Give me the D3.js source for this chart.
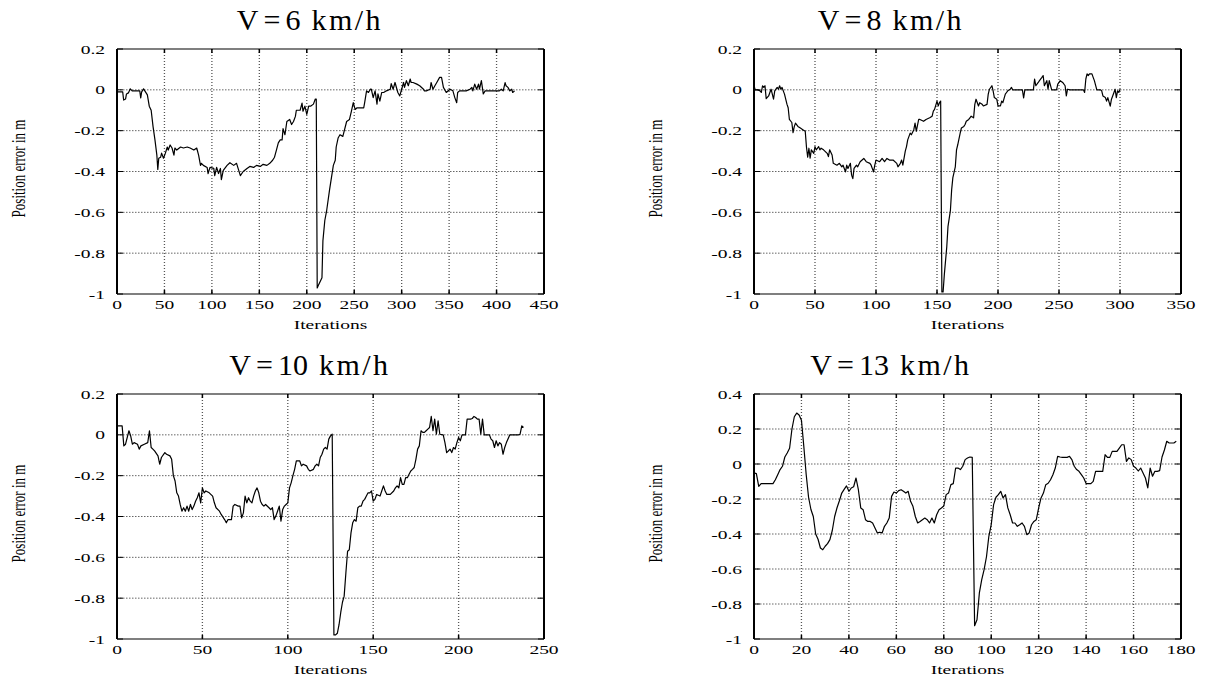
<!DOCTYPE html>
<html lang="en">
<head>
<meta charset="utf-8">
<script src="https://d3js.org/d3.v7.min.js"></script>
<style>
  body { margin: 0; background: #fff; }
  text { font-family: "Liberation Serif", "Times New Roman", serif; fill: #000; }
</style>
</head>
<body>
<script>
// ---- data ----
var speeds = [6, 8, 10, 13];

var iter6 = [0,3,6,7,9,10,12,14,16,20,24,25,26,28,30,32,34,36,38,40,42,43,44,46,47,49,51,53,54,56,58,60,61,63,67,70,74,77,81,84,86,88,89,91,95,96,98,102,103,105,107,109,110,112,116,119,123,126,130,133,137,140,144,147,151,154,158,161,164,166,168,170,172,174,175,177,179,182,184,186,188,189,193,195,196,198,200,202,204,207,209,210,211,212,216,217,219,221,224,228,230,231,233,235,238,242,245,247,249,251,253,256,260,261,263,265,267,268,270,272,274,275,277,279,281,284,288,289,291,293,295,296,298,300,302,303,305,307,309,310,312,316,319,323,324,326,330,331,333,335,337,340,342,344,347,351,354,356,358,359,361,368,372,374,375,377,379,381,382,384,386,388,393,400,403,405,407,409,410,412,414,416,417,419];
var err6 = [-0.01,-0.01,-0.01,-0.05,-0.045,-0.02,-0.015,0.005,-0.005,-0.005,-0.005,-0.04,-0.01,0.005,-0.01,-0.025,-0.08,-0.1,-0.18,-0.245,-0.32,-0.39,-0.335,-0.33,-0.31,-0.335,-0.31,-0.28,-0.295,-0.27,-0.285,-0.32,-0.285,-0.295,-0.28,-0.285,-0.28,-0.285,-0.295,-0.285,-0.32,-0.37,-0.36,-0.37,-0.38,-0.41,-0.38,-0.385,-0.42,-0.38,-0.41,-0.385,-0.44,-0.395,-0.37,-0.357,-0.37,-0.36,-0.42,-0.4,-0.385,-0.375,-0.38,-0.37,-0.375,-0.365,-0.37,-0.36,-0.345,-0.33,-0.295,-0.26,-0.245,-0.245,-0.19,-0.22,-0.155,-0.145,-0.17,-0.155,-0.13,-0.1,-0.1,-0.065,-0.105,-0.08,-0.12,-0.08,-0.08,-0.07,-0.045,-0.045,-0.97,-0.96,-0.92,-0.74,-0.64,-0.59,-0.49,-0.37,-0.345,-0.28,-0.236,-0.22,-0.228,-0.155,-0.145,-0.105,-0.063,-0.096,-0.088,-0.088,-0.088,-0.063,-0.005,-0.013,0.003,0.003,-0.038,-0.005,-0.07,-0.02,-0.055,-0.013,-0.013,-0.005,0.003,0.03,0.003,0.036,0.003,-0.013,-0.03,0.003,0.036,0.012,0.045,0.02,0.053,0.036,0.036,0.028,0.02,0.003,-0.005,-0.005,0.003,0.036,0.003,0.02,0.036,0.061,0.061,0.012,-0.013,0.003,-0.005,-0.038,-0.063,-0.013,-0.005,-0.005,0.003,0.012,-0.005,0.028,0.003,0.028,0.003,0.045,-0.02,-0.005,-0.005,-0.005,-0.005,0.003,-0.005,0.035,0.02,0.012,-0.005,0.003,-0.013,-0.005];

var iter8 = [0,1,3,5,6,7,8,9,10,12,13,14,16,17,19,20,21,22,23,24,25,27,28,29,31,32,33,34,36,38,40,42,43,44,45,46,47,49,50,51,53,54,55,57,60,61,62,64,65,68,70,72,73,75,76,77,79,80,81,82,84,85,87,90,92,95,96,98,99,100,103,105,107,109,111,114,117,118,120,121,122,124,125,126,128,129,131,132,133,135,136,139,141,144,146,147,148,150,151,152,153,154,155,156,158,159,161,162,163,165,166,167,169,170,172,173,174,176,177,178,180,181,182,184,185,187,188,191,192,193,195,196,197,199,200,202,203,204,206,207,208,210,211,212,220,221,222,229,230,231,233,234,236,237,238,240,241,242,244,248,249,251,253,255,256,257,259,270,271,272,273,274,275,277,278,279,281,284,285,286,288,289,290,292,293,294,296,297,298,299,300];
var err8 = [0.02,0,0,-0.005,-0.013,0.02,0.012,0.02,-0.043,-0.03,-0.013,0.003,-0.046,-0.005,0.012,0.003,0.02,0.003,0.012,-0.005,-0.021,-0.07,-0.088,-0.145,-0.16,-0.21,-0.18,-0.163,-0.179,-0.187,-0.195,-0.203,-0.28,-0.33,-0.286,-0.335,-0.294,-0.311,-0.278,-0.294,-0.278,-0.294,-0.286,-0.294,-0.311,-0.327,-0.294,-0.319,-0.36,-0.369,-0.36,-0.377,-0.369,-0.402,-0.369,-0.385,-0.36,-0.418,-0.435,-0.385,-0.369,-0.377,-0.352,-0.336,-0.352,-0.36,-0.369,-0.402,-0.369,-0.344,-0.352,-0.336,-0.352,-0.336,-0.344,-0.344,-0.36,-0.377,-0.36,-0.344,-0.369,-0.3,-0.278,-0.245,-0.212,-0.22,-0.195,-0.163,-0.203,-0.145,-0.145,-0.154,-0.145,-0.137,-0.129,-0.104,-0.096,-0.055,-0.079,-0.063,-0.055,-0.99,-0.99,-0.905,-0.77,-0.67,-0.59,-0.49,-0.43,-0.377,-0.294,-0.269,-0.212,-0.187,-0.179,-0.17,-0.154,-0.145,-0.137,-0.129,-0.137,-0.071,-0.046,-0.079,-0.063,-0.071,-0.079,-0.071,-0.021,0.003,0.02,-0.005,-0.038,-0.046,-0.079,-0.079,-0.055,-0.063,-0.021,-0.013,-0.005,0.003,0.012,0,0,-0.04,0,0,0.053,0.02,0.036,0.045,0.061,0.07,0.02,0.045,0.003,0.045,0,0,0.028,0.045,0.036,0.02,-0.03,0.003,0,0,-0.013,0.053,0.078,0.07,0.078,0.078,0.061,0.045,0,0,-0.005,-0.03,-0.038,-0.055,-0.038,-0.08,-0.046,-0.03,0.003,-0.038,-0.005,-0.013,0.003];

var iter10 = [0,3,4,5,7,8,9,10,12,13,14,16,18,19,20,21,22,24,25,26,28,29,31,32,33,34,35,36,37,38,39,40,41,42,43,44,45,46,47,48,49,50,51,52,54,56,57,58,60,61,63,64,65,67,68,69,71,72,73,74,75,76,77,78,79,80,81,82,83,84,85,86,87,89,90,91,92,93,94,95,96,97,98,99,100,101,102,103,104,105,107,108,109,111,112,113,115,116,117,118,119,120,121,122,123,124,125,126,127,128,129,130,131,132,133,134,135,136,137,138,139,140,141,142,143,144,145,146,147,148,149,150,151,152,154,155,156,157,158,160,162,163,164,165,166,167,168,169,170,171,172,173,174,175,176,177,178,179,180,181,182,183,184,185,186,187,188,189,191,192,193,194,195,196,197,198,199,200,201,202,204,205,206,207,208,209,210,211,212,213,214,215,218,219,220,221,222,223,224,225,226,227,228,230,235,236,237,238];
var err10 = [0.044,0.044,-0.054,-0.046,0.02,-0.005,-0.046,-0.038,-0.046,-0.07,-0.054,-0.046,-0.038,0.02,-0.062,-0.07,-0.079,-0.103,-0.144,-0.111,-0.087,-0.095,-0.103,-0.12,-0.2,-0.226,-0.284,-0.3,-0.341,-0.374,-0.357,-0.374,-0.349,-0.374,-0.341,-0.366,-0.349,-0.325,-0.308,-0.284,-0.333,-0.26,-0.284,-0.275,-0.284,-0.3,-0.333,-0.357,-0.374,-0.39,-0.415,-0.431,-0.415,-0.415,-0.349,-0.341,-0.349,-0.349,-0.407,-0.382,-0.3,-0.333,-0.308,-0.325,-0.333,-0.3,-0.275,-0.26,-0.284,-0.325,-0.341,-0.349,-0.341,-0.357,-0.366,-0.357,-0.415,-0.398,-0.374,-0.349,-0.423,-0.366,-0.349,-0.341,-0.333,-0.26,-0.234,-0.2,-0.169,-0.128,-0.128,-0.152,-0.144,-0.152,-0.169,-0.177,-0.169,-0.152,-0.144,-0.152,-0.111,-0.095,-0.07,-0.062,-0.07,-0.021,-0.005,0.003,-0.98,-0.98,-0.972,-0.93,-0.87,-0.82,-0.79,-0.677,-0.57,-0.563,-0.48,-0.431,-0.415,-0.423,-0.357,-0.349,-0.349,-0.325,-0.316,-0.3,-0.284,-0.284,-0.275,-0.325,-0.316,-0.292,-0.3,-0.275,-0.25,-0.275,-0.292,-0.292,-0.275,-0.26,-0.25,-0.26,-0.21,-0.243,-0.243,-0.21,-0.21,-0.193,-0.177,-0.169,-0.16,-0.12,-0.07,-0.054,0.02,0.012,0.012,0.02,0.028,0.036,0.09,0.02,0.077,0.003,0.069,0.003,0,-0.038,-0.087,-0.079,-0.07,-0.087,-0.062,-0.07,-0.038,-0.013,-0.029,0,0,0.077,0.077,0.077,0.08,0.09,0.085,0.077,0.077,0.003,0.077,0,0,-0.021,-0.029,-0.062,-0.029,-0.054,-0.038,-0.046,-0.095,-0.062,-0.038,0,0,0.003,0.044,0.036];

var iter13 = [0,1,2,3,4,6,8,9,10,11,12,13,14,15,16,17,18,19,20,21,22,23,24,25,26,27,28,29,30,31,32,33,34,35,36,37,38,39,40,41,42,43,44,45,46,47,48,49,50,51,52,53,54,55,56,57,58,59,60,61,62,63,64,65,66,67,68,69,70,71,72,73,74,75,76,77,78,79,80,81,82,83,84,85,86,87,88,89,90,91,92,93,94,95,96,97,98,99,100,101,102,103,104,105,106,107,108,109,110,111,112,113,114,115,116,117,118,119,120,121,122,123,124,125,126,127,128,129,130,132,133,134,135,136,137,138,139,140,141,142,143,144,145,147,148,149,150,151,152,153,154,155,156,157,158,159,160,161,162,163,164,165,166,167,168,169,170,171,172,173,174,175,176,177,178];
var err13 = [-0.051,-0.055,-0.128,-0.112,-0.112,-0.112,-0.112,-0.09,-0.061,-0.032,-0.013,0.04,0.063,0.09,0.2,0.27,0.291,0.28,0.25,0.1,-0.06,-0.19,-0.26,-0.3,-0.4,-0.43,-0.48,-0.49,-0.47,-0.455,-0.432,-0.38,-0.3,-0.25,-0.21,-0.166,-0.145,-0.125,-0.156,-0.137,-0.13,-0.08,-0.147,-0.251,-0.261,-0.318,-0.328,-0.328,-0.337,-0.366,-0.394,-0.39,-0.394,-0.356,-0.337,-0.309,-0.185,-0.16,-0.166,-0.152,-0.147,-0.156,-0.166,-0.156,-0.213,-0.242,-0.3,-0.337,-0.328,-0.318,-0.309,-0.318,-0.337,-0.309,-0.337,-0.29,-0.261,-0.251,-0.24,-0.175,-0.166,-0.118,-0.112,-0.023,-0.023,-0.032,-0.013,0.025,0.034,0.04,0.038,-0.924,-0.89,-0.737,-0.661,-0.604,-0.53,-0.413,-0.347,-0.232,-0.19,-0.175,-0.156,-0.194,-0.175,-0.251,-0.29,-0.337,-0.337,-0.356,-0.347,-0.337,-0.356,-0.404,-0.394,-0.347,-0.328,-0.318,-0.251,-0.194,-0.166,-0.118,-0.11,-0.09,-0.061,-0.023,0.044,0.04,0.038,0.038,0.044,0.025,-0.013,-0.032,-0.042,-0.061,-0.08,-0.112,-0.112,-0.112,-0.099,-0.042,-0.042,-0.042,0.053,0.038,0.038,0.072,0.072,0.072,0.091,0.11,0.11,0.015,0.035,0.025,-0.013,-0.023,-0.04,-0.023,-0.051,-0.08,-0.137,-0.023,-0.07,-0.042,-0.042,-0.038,0.04,0.08,0.13,0.12,0.12,0.12,0.13];

var xTicks6 = [0,50,100,150,200,250,300,350,400,450];
var xTicks8 = [0,50,100,150,200,250,300,350];
var xTicks10 = [0,50,100,150,200,250];
var xTicks13 = [0,20,40,60,80,100,120,140,160,180];
var yTicksA = [-1,-0.8,-0.6,-0.4,-0.2,0,0.2];
var yTicksB = [-1,-0.8,-0.6,-0.4,-0.2,0,0.2,0.4];

var series = [
  {iter: iter6,  err: err6,  xt: xTicks6,  yt: yTicksA},
  {iter: iter8,  err: err8,  xt: xTicks8,  yt: yTicksA},
  {iter: iter10, err: err10, xt: xTicks10, yt: yTicksA},
  {iter: iter13, err: err13, xt: xTicks13, yt: yTicksB}
];

// ---- layout ----
var W = 1207, H = 679;
var pw = 427, ph = 245;
var boxes = [
  {x: 117, y: 49,  tx: 310},
  {x: 754, y: 49,  tx: 891},
  {x: 117, y: 394, tx: 310},
  {x: 754, y: 394, tx: 891}
];
var SX = 1.5;   // the original figure is stretched sideways

var svg = d3.select("body").append("svg")
  .attr("width", W).attr("height", H);

function wideText(g, x, y, str, anchor) {
  return g.append("g")
    .attr("transform", "translate(" + x + "," + y + ") scale(" + SX + ",1)")
    .append("text")
    .attr("text-anchor", anchor)
    .style("font-size", "13px")
    .text(str);
}

function fmt(v) {
  var r = Math.round(v * 10) / 10;
  return r === 0 ? "0" : String(r);
}

series.forEach(function(s, i) {
  var b = boxes[i];
  var x = d3.scaleLinear()
    .domain([s.xt[0], s.xt[s.xt.length - 1]])
    .range([b.x, b.x + pw]);
  var y = d3.scaleLinear()
    .domain([s.yt[0], s.yt[s.yt.length - 1]])
    .range([b.y + ph, b.y]);

  var g = svg.append("g");

  // grid
  g.selectAll(".gx").data(s.xt.slice(1, -1)).enter().append("line")
    .attr("x1", d => x(d)).attr("x2", d => x(d))
    .attr("y1", b.y).attr("y2", b.y + ph)
    .attr("stroke", "#555").attr("stroke-width", 1.3)
    .attr("stroke-dasharray", "1,2");
  g.selectAll(".gy").data(s.yt.slice(1, -1)).enter().append("line")
    .attr("x1", b.x).attr("x2", b.x + pw)
    .attr("y1", d => y(d)).attr("y2", d => y(d))
    .attr("stroke", "#555").attr("stroke-width", 0.9)
    .attr("stroke-dasharray", "1.5,1.5");

  // inner ticks
  s.yt.forEach(function(d) {
    g.append("line").attr("x1", b.x).attr("x2", b.x + 6)
      .attr("y1", y(d)).attr("y2", y(d)).attr("stroke", "#000");
    g.append("line").attr("x1", b.x + pw - 6).attr("x2", b.x + pw)
      .attr("y1", y(d)).attr("y2", y(d)).attr("stroke", "#000");
  });
  s.xt.forEach(function(d) {
    g.append("line").attr("x1", x(d)).attr("x2", x(d))
      .attr("y1", b.y + ph).attr("y2", b.y + ph - 4)
      .attr("stroke", "#000").attr("stroke-width", 1.5);
    g.append("line").attr("x1", x(d)).attr("x2", x(d))
      .attr("y1", b.y).attr("y2", b.y + 4)
      .attr("stroke", "#000").attr("stroke-width", 1.5);
  });

  // data line
  var line = d3.line().x(d => x(d[0])).y(d => y(d[1]));
  g.append("path")
    .datum(d3.zip(s.iter, s.err))
    .attr("d", line)
    .attr("fill", "none")
    .attr("stroke", "#000")
    .attr("stroke-width", 1.2)
    .attr("stroke-linejoin", "round");

  // frame
  g.append("line").attr("x1", b.x).attr("x2", b.x + pw).attr("y1", b.y).attr("y2", b.y)
    .attr("stroke", "#000").attr("stroke-width", 1.2);
  g.append("line").attr("x1", b.x).attr("x2", b.x + pw).attr("y1", b.y + ph).attr("y2", b.y + ph)
    .attr("stroke", "#000").attr("stroke-width", 1.2);
  g.append("line").attr("x1", b.x).attr("x2", b.x).attr("y1", b.y).attr("y2", b.y + ph)
    .attr("stroke", "#000").attr("stroke-width", 2);
  g.append("line").attr("x1", b.x + pw).attr("x2", b.x + pw).attr("y1", b.y).attr("y2", b.y + ph)
    .attr("stroke", "#000").attr("stroke-width", 2);

  // tick labels
  s.yt.forEach(function(d) {
    wideText(g, b.x - 12, y(d), fmt(d), "end").attr("dy", "0.35em");
  });
  s.xt.forEach(function(d) {
    wideText(g, x(d), b.y + ph + 15, String(d), "middle");
  });

  // axis titles
  wideText(g, b.x + pw / 2, b.y + ph + 35, "Iterations", "middle");
  g.append("g")
    .attr("transform", "translate(" + (b.x - 92) + "," + (b.y + ph / 2 - 3) + ") scale(" + SX + ",1) rotate(-90)")
    .append("text")
    .attr("text-anchor", "middle")
    .style("font-size", "13px")
    .text("Position error in m");

  // panel title
  var t = g.append("text")
    .attr("x", b.tx).attr("y", b.y - 19)
    .attr("text-anchor", "middle")
    .style("font-size", "30px");
  t.append("tspan").text("V");
  t.append("tspan").attr("dx", 5).text("=");
  t.append("tspan").attr("dx", 5).text(speeds[i]);
  t.append("tspan").attr("dx", 11).style("letter-spacing", "2.5px").text("km/h");
});
</script>
</body>
</html>
